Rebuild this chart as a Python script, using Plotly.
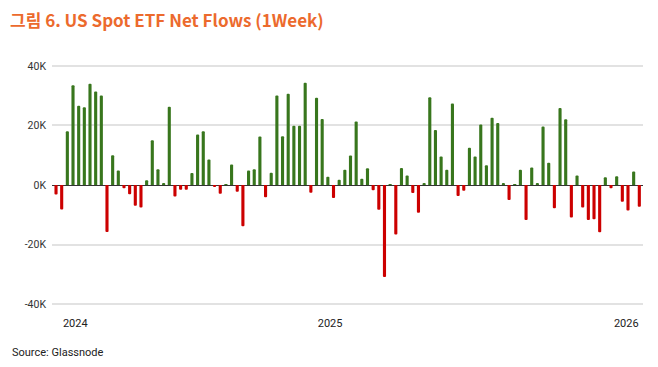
import plotly.graph_objects as go

# Weekly net flows (thousand BTC)
flows = [-3.2, -8.2, 18.1, 33.5, 26.6, 26.1, 34.0, 31.4, 30.1, -15.8, 10.0, 4.9, -1.1, -3.1,
         -7.0, -7.6, 1.6, 15.0, 5.3, 0.6, 26.3, -3.9, -1.6, -1.6, 4.0, 17.0, 18.1, 8.6, -0.6,
         -2.9, 0.3, 6.9, -2.3, -13.9, 4.9, 5.3, 16.3, -4.1, 4.1, 30.1, 16.4, 30.7, 19.9, 19.9,
         34.4, -2.6, 29.3, 22.2, 2.8, -4.4, 1.8, 5.1, 9.9, 21.3, 2.1, 5.6, -1.8, -8.3, -30.9,
         0.3, -16.6, 5.7, 3.2, -2.7, -9.3, 0.4, 29.5, 18.5, 9.6, 5.1, 27.4, -3.7, -1.9, 12.5,
         9.6, 20.3, 6.6, 22.6, 20.8, 0.7, -5.0, 0.2, 5.1, -11.8, 5.9, 0.6, 19.7, 7.5, -7.8,
         25.9, 22.1, -10.9, 3.2, -7.6, -11.8, -11.5, -15.9, 2.6, -1.1, 2.9, -5.6, -8.6, 4.5, -7.3]
weeks = list(range(len(flows)))

year_labels = ["2024", "2025", "2026"]
year_positions = [3.4, 48.4, 100.7]
y_ticks = [-40, -20, 0, 20, 40]
y_tick_text = ["-40K", "-20K", "0K", "20K", "40K"]

GREEN = "#38761d"
RED = "#cc0000"
colors = [GREEN if v >= 0 else RED for v in flows]

fig = go.Figure(go.Bar(
    x=weeks, y=flows,
    marker=dict(color=colors, line=dict(width=0)),
    width=0.55,
))

W, H = 650, 359  # page body has an 8px margin
fig.update_layout(
    width=W, height=H,
    margin=dict(l=44, r=15, t=55, b=60),
    paper_bgcolor="white", plot_bgcolor="white",
    showlegend=False,
    barcornerradius=2,
    title=dict(
        text="<b>그림 6. US Spot ETF Net Flows (1Week)</b>",
        x=2 / W, xanchor="left", xref="container",
        y=1 - 13 / H, yanchor="middle", yref="container",
        pad=dict(l=0, t=0, b=0, r=0),
        font=dict(family="Noto Sans CJK KR", size=17, color="#ec6a2d"),
    ),
    font=dict(family="Roboto", size=11, color="#333333"),
    annotations=[dict(
        text="Source: Glassnode", xref="paper", yref="paper",
        x=(10 - 52) / 591, y=(307 - 353) / 244, xanchor="left", yanchor="middle",
        showarrow=False, font=dict(family="Roboto", size=11, color="#222222"),
    )],
)

fig.update_xaxes(
    range=[-0.71, 103.65],
    tickvals=year_positions, ticktext=year_labels,
    showgrid=False, zeroline=False, showline=False, ticks="",
    ticklabelstandoff=8,
    tickfont=dict(family="Roboto", size=11, color="#222222"),
)
fig.update_yaxes(
    range=[-41, 41],
    tickvals=y_ticks, ticktext=y_tick_text,
    showgrid=True, gridcolor="#e2e2e2", gridwidth=1.5,
    zeroline=True, zerolinecolor="#333333", zerolinewidth=1,
    showline=False, ticks="", ticklabelstandoff=5,
    tickfont=dict(family="Roboto", size=10.5, color="#333333"),
)

fig.write_html("out.html")
